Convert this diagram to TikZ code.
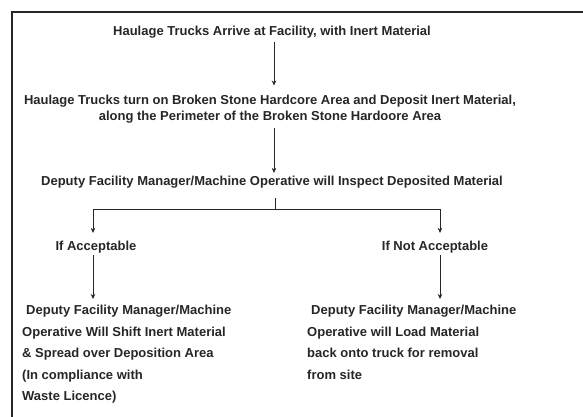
\documentclass[tikz,border=0pt]{standalone}
\usepackage{fontspec}
\setmainfont{Liberation Sans}
\newfontfamily\flowfont{Liberation Sans Bold}
\usetikzlibrary{arrows.meta}
\begin{document}
\begin{tikzpicture}[x=1pt,y=-1pt,
  txt/.style={font=\flowfont\fontsize{13}{16}\selectfont, inner sep=0pt, text=black!85},
  blk/.style={txt, align=left, font=\flowfont\fontsize{13}{21.5}\selectfont},
  arr/.style={-{Stealth[length=5pt,width=4.5pt]}, line width=0.6pt, draw=black!85},
  conn/.style={line width=0.6pt, draw=black!85}]
  \useasboundingbox (0,0) rectangle (583,417);
  % outer frame (top and left edges)
  \draw[line width=2.8pt, black!85] (12,417) -- (12,12) -- (583,12);
  % main column
  \node[txt, anchor=base] (arrive) at (272,35.5) {Haulage Trucks Arrive at Facility, with Inert Material};
  \node[txt, align=center, anchor=north] (tip) at (270,94.5)
    {Haulage Trucks turn on Broken Stone Hardcore Area and Deposit Inert Material,\\
     along the Perimeter of the Broken Stone Hardoore Area};
  \node[txt, anchor=base] (inspect) at (272,185.5) {Deputy Facility Manager/Machine Operative will Inspect Deposited Material};
  % decision branches
  \node[txt, anchor=base] (acc) at (96,250.5) {If Acceptable};
  \node[txt, anchor=base] (nacc) at (435,250.5) {If Not Acceptable};
  \node[blk, anchor=north west] (shift) at (22,305)
    {\hspace{4pt}Deputy Facility Manager/Machine\\
     Operative Will Shift Inert Material\\
     \& Spread over Deposition Area\\
     (In compliance with\\
     Waste Licence)};
  \node[blk, anchor=north west] (load) at (307,305)
    {\hspace{4pt}Deputy Facility Manager/Machine\\
     Operative will Load Material\\
     back onto truck for removal\\
     from site};
  % connector columns
  \coordinate (col) at (274,0);
  \coordinate (split) at (275,209);
  \coordinate (lx) at (93,0);
  \coordinate (rx) at (440,0);
  % connectors
  \draw[arr, shorten <=4pt, shorten >=9pt] (arrive.south -| col) -- (tip.north -| col);
  \draw[arr, shorten <=5pt, shorten >=3pt] (tip.south -| col) -- (inspect.north -| col);
  \draw[conn, shorten <=10pt] (inspect.south -| split) -- (split);
  \draw[arr, shorten >=8pt] (split) -| (acc.north -| lx);
  \draw[arr, shorten >=8pt] (split) -| (nacc.north -| rx);
  \draw[arr, shorten <=2pt, shorten >=6pt] (acc.south -| lx) -- (shift.north -| lx);
  \draw[arr, shorten <=2pt, shorten >=6pt] (nacc.south -| rx) -- (load.north -| rx);
\end{tikzpicture}
\end{document}
